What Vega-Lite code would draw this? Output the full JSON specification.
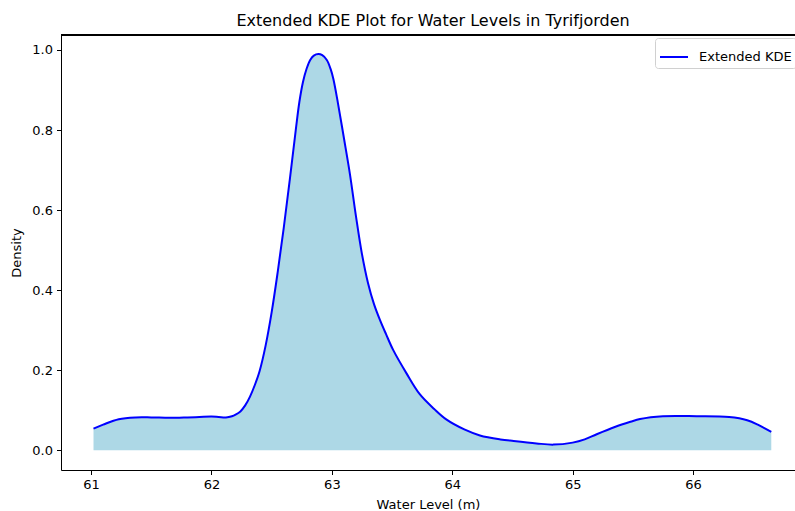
{
  "$schema": "https://vega.github.io/schema/vega-lite/v6.json",
  "width": 734,
  "height": 435,
  "autosize": {"type": "none"},
  "padding": {"left": 61, "top": 35, "right": 0, "bottom": 41},
  "background": "white",
  "title": {"text": "Extended KDE Plot for Water Levels in Tyrifjorden", "font": "DejaVu Sans", "fontSize": 16, "fontWeight": "normal", "color": "#000", "offset": 6, "dx": 5},
  "config": {
    "view": {"stroke": null},
    "axis": {"labelFont": "DejaVu Sans", "labelFontSize": 13, "labelColor": "#000", "titleFont": "DejaVu Sans", "titleFontSize": 13, "titleFontWeight": "normal", "titleColor": "#000", "domainColor": "#000", "domainWidth": 1, "tickColor": "#000", "tickWidth": 1, "tickSize": 4.5, "labelPadding": 4, "grid": false},
    "legend": {"labelFont": "DejaVu Sans", "labelFontSize": 13, "labelColor": "#000"}
  },
  "data": {"values": [
    {"x": 61.02, "density": 0.054},
    {"x": 61.1, "density": 0.064},
    {"x": 61.23, "density": 0.0775},
    {"x": 61.37, "density": 0.082},
    {"x": 61.5, "density": 0.082},
    {"x": 61.65, "density": 0.081},
    {"x": 61.8, "density": 0.082},
    {"x": 61.9, "density": 0.083},
    {"x": 62.0, "density": 0.084},
    {"x": 62.06, "density": 0.083},
    {"x": 62.12, "density": 0.082},
    {"x": 62.17, "density": 0.085},
    {"x": 62.2, "density": 0.089},
    {"x": 62.24, "density": 0.097},
    {"x": 62.28, "density": 0.112},
    {"x": 62.32, "density": 0.134},
    {"x": 62.36, "density": 0.163},
    {"x": 62.40, "density": 0.198},
    {"x": 62.45, "density": 0.262},
    {"x": 62.50, "density": 0.345},
    {"x": 62.55, "density": 0.445},
    {"x": 62.60, "density": 0.555},
    {"x": 62.65, "density": 0.675},
    {"x": 62.70, "density": 0.8},
    {"x": 62.73, "density": 0.87},
    {"x": 62.76, "density": 0.92},
    {"x": 62.79, "density": 0.953},
    {"x": 62.82, "density": 0.975},
    {"x": 62.85, "density": 0.986},
    {"x": 62.888, "density": 0.99},
    {"x": 62.92, "density": 0.987},
    {"x": 62.958, "density": 0.975},
    {"x": 62.99, "density": 0.952},
    {"x": 63.012, "density": 0.928},
    {"x": 63.05, "density": 0.868},
    {"x": 63.10, "density": 0.78},
    {"x": 63.15, "density": 0.69},
    {"x": 63.20, "density": 0.585},
    {"x": 63.25, "density": 0.49},
    {"x": 63.30, "density": 0.418},
    {"x": 63.35, "density": 0.365},
    {"x": 63.40, "density": 0.325},
    {"x": 63.45, "density": 0.29},
    {"x": 63.51, "density": 0.25},
    {"x": 63.62, "density": 0.192},
    {"x": 63.73, "density": 0.14},
    {"x": 63.85, "density": 0.103},
    {"x": 63.95, "density": 0.077},
    {"x": 64.1, "density": 0.052},
    {"x": 64.23, "density": 0.037},
    {"x": 64.4, "density": 0.027},
    {"x": 64.51, "density": 0.023},
    {"x": 64.7, "density": 0.017},
    {"x": 64.84, "density": 0.014},
    {"x": 65.0, "density": 0.019},
    {"x": 65.1, "density": 0.027},
    {"x": 65.2, "density": 0.04},
    {"x": 65.35, "density": 0.058},
    {"x": 65.48, "density": 0.071},
    {"x": 65.56, "density": 0.078},
    {"x": 65.75, "density": 0.085},
    {"x": 66.03, "density": 0.085},
    {"x": 66.3, "density": 0.083},
    {"x": 66.45, "density": 0.075},
    {"x": 66.55, "density": 0.062},
    {"x": 66.65, "density": 0.046}
  ]},
  "layer": [
    {
      "mark": {"type": "area", "color": "#add8e6", "interpolate": "catmull-rom"},
      "encoding": {
        "x": {"field": "x", "type": "quantitative", "scale": {"domain": [60.75, 66.847], "nice": false, "zero": false}, "axis": {"orient": "bottom", "title": "Water Level (m)", "values": [61, 62, 63, 64, 65, 66], "format": "d", "titlePadding": 7}},
        "y": {"field": "density", "type": "quantitative", "scale": {"domain": [-0.0494, 1.0374], "nice": false, "zero": false}, "axis": {"title": "Density", "values": [0, 0.2, 0.4, 0.6, 0.8, 1.0], "format": ".1f", "titlePadding": 8}},
        "y2": {"datum": 0}
      }
    },
    {
      "mark": {"type": "line", "strokeWidth": 2, "interpolate": "catmull-rom"},
      "encoding": {
        "x": {"field": "x", "type": "quantitative"},
        "y": {"field": "density", "type": "quantitative"},
        "color": {"datum": "Extended KDE", "type": "nominal", "scale": {"range": ["#0000ff"]}, "legend": {"title": null, "orient": "none", "legendX": 594, "legendY": 3, "symbolType": "stroke", "symbolStrokeWidth": 2, "symbolSize": 784, "padding": 4, "fillColor": "white", "strokeColor": "#d0d0d0", "cornerRadius": 3, "labelOffset": 10}}
      }
    },
    {
      "mark": {"type": "rule", "color": "#000", "strokeWidth": 1},
      "encoding": {
        "y": {"datum": 1.0374}
      }
    }
  ]
}
